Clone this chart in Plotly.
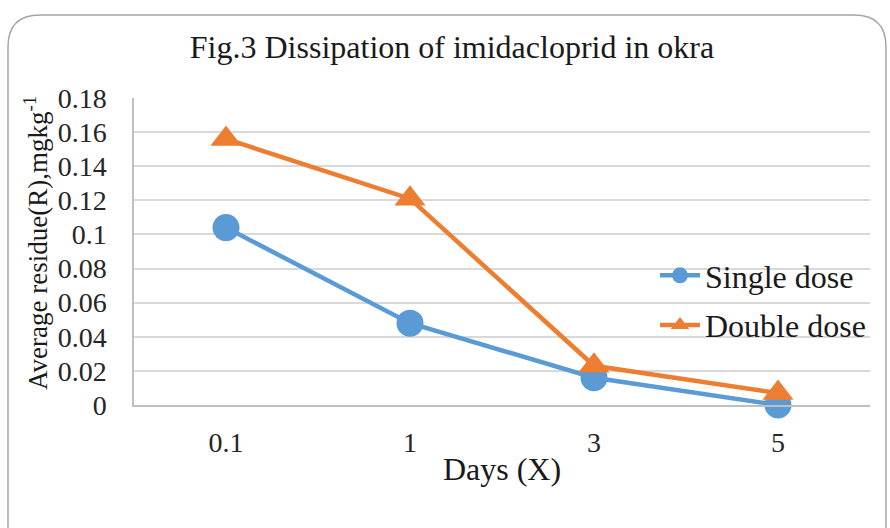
import plotly.graph_objects as go

days = ["0.1", "1", "3", "5"]
single_dose = [0.104, 0.048, 0.016, 0.0]
double_dose = [0.156, 0.121, 0.023, 0.007]
y_ticks = [0, 0.02, 0.04, 0.06, 0.08, 0.1, 0.12, 0.14, 0.16, 0.18]
y_tick_labels = ["0", "0.02", "0.04", "0.06", "0.08", "0.1", "0.12", "0.14", "0.16", "0.18"]

W, H = 890, 528
L, R, T, B = 134, 20, 98, 123
pw, ph = W - L - R, H - T - B

FONT = "Liberation Serif"
BLUE = "#5b9bd5"
ORANGE = "#ed7d31"

fig = go.Figure()
fig.add_trace(go.Scatter(x=days, y=single_dose, name="Single dose", mode="lines+markers",
                         line=dict(color=BLUE, width=4.5),
                         marker=dict(symbol="circle", size=27, color=BLUE),
                         legendgroup="a", cliponaxis=False))
fig.add_trace(go.Scatter(x=days, y=double_dose, name="Double dose", mode="lines+markers",
                         line=dict(color=ORANGE, width=4.5),
                         marker=dict(symbol="triangle-up", size=27, color=ORANGE),
                         legendgroup="b", cliponaxis=False))

def px2paper(x, y):
    return (x - L) / pw, (H - B - y) / ph

def P(x, y):
    px, py = px2paper(x, y)
    return f"{px:.5f},{py:.5f}"

# rounded border
x0, y0, x1, y1, r = 8, 15, 886, 560, 32
path = (f"M {P(x0, y1)} L {P(x0, y0 + r)} Q {P(x0, y0)} {P(x0 + r, y0)} "
        f"L {P(x1 - r, y0)} Q {P(x1, y0)} {P(x1, y0 + r)} L {P(x1, y1)}")
fig.add_shape(type="path", path=path, xref="paper", yref="paper",
              line=dict(color="#a6a6a6", width=1.5), layer="below")

# y-axis title placed as an annotation for exact positioning
ax, ay = px2paper(36, 243)
fig.add_annotation(text="Average residue(R),mgkg<sup>-1</sup>", x=ax, y=ay,
                   xref="paper", yref="paper", textangle=-90, showarrow=False,
                   xanchor="center", yanchor="middle",
                   font=dict(size=27, family=FONT, color="#1a1a1a"))

fig.update_layout(
    width=W, height=H,
    margin=dict(l=L, r=R, t=T, b=B),
    paper_bgcolor="white", plot_bgcolor="white",
    font=dict(family=FONT, color="#262626"),
    title=dict(text="Fig.3 Dissipation of imidacloprid in okra", x=452 / W, xanchor="center",
               y=1 - 47 / H, yanchor="middle", font=dict(size=32, family=FONT, color="#1a1a1a")),
    xaxis=dict(range=[-0.5, 3.5], showgrid=False, showline=True, linecolor="#bfbfbf", linewidth=1.5,
               ticks="", ticklabelstandoff=12, tickfont=dict(size=28, family=FONT, color="#262626"),
               title=dict(text="Days (X)", font=dict(size=32, family=FONT, color="#1a1a1a"), standoff=0)),
    yaxis=dict(range=[0, 0.18], tickvals=y_ticks, ticktext=y_tick_labels,
               showgrid=True, gridcolor="#d9d9d9", gridwidth=1.5,
               showline=True, linecolor="#bfbfbf", linewidth=1.5, zeroline=False,
               ticks="", ticklabelstandoff=20,
               tickfont=dict(size=28, family=FONT, color="#262626")),
    legend=dict(x=(655 - L) / pw, y=(H - B - 248) / ph, xanchor="left", yanchor="top",
                bgcolor="rgba(0,0,0,0)", font=dict(size=32, family=FONT, color="#1a1a1a"),
                traceorder="grouped", tracegroupgap=5, itemwidth=40),
    showlegend=True,
)

fig.write_html("out.html")
